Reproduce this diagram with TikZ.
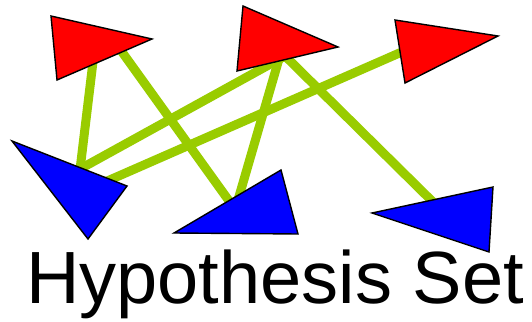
\documentclass[tikz,border=0pt]{standalone}
\usepackage{fontspec}
\setmainfont{Liberation Sans}
\definecolor{linkgreen}{RGB}{153,204,0}
\definecolor{tred}{RGB}{255,0,0}
\definecolor{tblue}{RGB}{0,0,255}
\tikzset{
  link/.style={draw=linkgreen,line width=9pt},
  redtri/.style={fill=tred,draw=black,line width=1.4pt,line join=miter},
  bluetri/.style={fill=tblue,draw=black,line width=1.4pt,line join=miter}
}
\begin{document}
\begin{tikzpicture}[x=1pt,y=-1pt]
\useasboundingbox (0,0) rectangle (532,321);
% connection points
\coordinate (r1a) at (95,45);
\coordinate (r1b) at (117,45);
\coordinate (r2a) at (285,56);
\coordinate (r2b) at (281,52);
\coordinate (r3a) at (420,44);
\coordinate (b1a) at (79,178);
\coordinate (b1b) at (80,169);
\coordinate (b1c) at (105,182);
\coordinate (b2a) at (232,205);
\coordinate (b2b) at (238,200);
\coordinate (b3a) at (436,205);
% links
\draw[link] (r1a) -- (b1a);
\draw[link] (r1b) -- (b2a);
\draw[link] (r2a) -- (b1b);
\draw[link] (r3a) -- (b1c);
\draw[link] (r2b) -- (b2b);
\draw[link] (r2b) -- (b3a);
% triangles
\draw[redtri] (51,16) -- (152,39) -- (57,80) -- cycle;
\draw[redtri] (243,6) -- (338,47) -- (237,71) -- cycle;
\draw[redtri] (395,20) -- (498,36) -- (405,83) -- cycle;
\draw[bluetri] (12,141) -- (127,186) -- (88,239) -- cycle;
\draw[bluetri] (174,233) -- (281,170) -- (298,234) -- cycle;
\draw[bluetri] (372,213) -- (493,187) -- (489,252) -- cycle;
% label
\node[anchor=base west,inner sep=0pt,font=\fontsize{74}{80}\selectfont] (label) at (26,303) {Hypothesis Set};
\end{tikzpicture}
\end{document}
